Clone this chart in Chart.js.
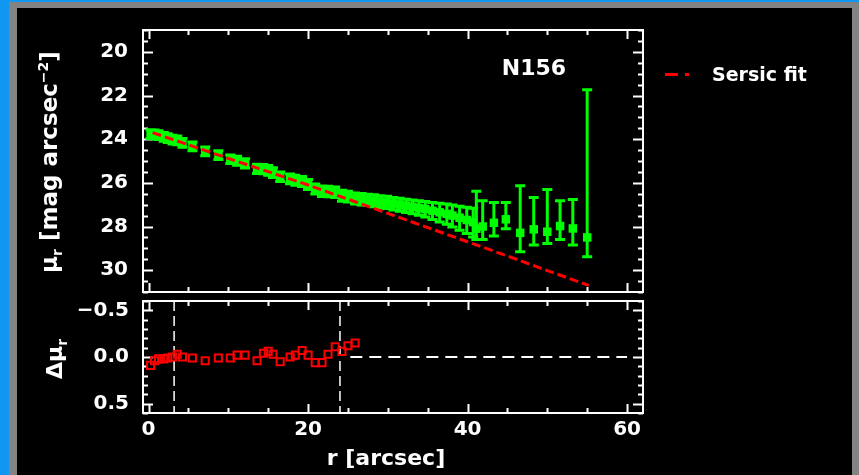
<!DOCTYPE html>
<html>
<head>
<meta charset="utf-8">
<script src="https://cdn.jsdelivr.net/npm/chart.js@4.4.1/dist/chart.umd.min.js"></script>
<style>
  body { margin: 0; background: #000; width: 859px; height: 475px; overflow: hidden; position: relative;
         font-family: 'DejaVu Sans', sans-serif; font-weight: bold; color: #fff; }
  canvas { position: absolute; left: 0; top: 0; }
  .abs { position: absolute; white-space: nowrap; }
  .rot { transform: translate(-50%, -50%) rotate(-90deg); }
  .ctr { transform: translate(-50%, -50%); }
</style>
</head>
<body>
<!-- window frame -->
<div class="abs" style="left:0;top:0;width:859px;height:2px;background:#1197f2"></div>
<div class="abs" style="left:0;top:0;width:9px;height:475px;background:#1197f2"></div>
<div class="abs" style="left:9px;top:2px;width:850px;height:6px;background:#838383"></div>
<div class="abs" style="left:9px;top:2px;width:8px;height:473px;background:#838383"></div>
<div class="abs" style="left:852px;top:2px;width:7px;height:473px;background:#838383"></div>

<canvas id="profile" width="859" height="475"></canvas>
<canvas id="resid" width="859" height="475"></canvas>

<div class="abs rot" style="left:50px;top:162px;font-size:23px">&mu;<sub style="font-size:14px">r</sub> [mag arcsec<sup style="font-size:14px">&minus;2</sup>]</div>
<div class="abs rot" style="left:56px;top:359px;font-size:22px">&Delta;&mu;<sub style="font-size:14px">r</sub></div>
<div class="abs ctr" style="left:386px;top:457px;font-size:22px">r [arcsec]</div>
<div class="abs ctr" style="left:534px;top:67px;font-size:22px">N156</div>
<div class="abs" style="left:665px;top:73px;width:13px;height:3px;background:#ff0000"></div>
<div class="abs" style="left:685px;top:73px;width:4px;height:3px;background:#ff0000"></div>
<div class="abs" style="left:712px;top:74px;font-size:19px;transform:translateY(-50%)">Sersic fit</div>

<script>
// surface brightness profile (arcsec, mag/arcsec^2)
const rProf = [0.25, 0.75, 1.25, 1.9, 2.4, 3.0, 3.6, 4.25, 5.5, 7.1, 8.75, 10.25, 11.1, 12.1, 13.6, 14.4, 15.0, 15.6, 16.5, 17.75,
               18.4, 19.25, 20.0, 20.9, 21.75, 22.5, 23.4, 24.25, 25.0, 25.9, 26.7, 27.5, 28.3, 29.1, 29.9, 30.7, 31.5, 32.3, 33.1, 33.9,
               34.7, 35.6, 36.5, 37.4, 38.1, 39.0, 39.9, 40.7, 41.1, 41.9, 43.3, 44.8, 46.6, 48.3, 50.0, 51.6, 53.2, 55.0];
const muProf = [23.77, 23.78, 23.82, 23.90, 23.95, 24.02, 24.06, 24.17, 24.33, 24.56, 24.73, 24.92, 24.99, 25.11, 25.36, 25.37, 25.43, 25.53, 25.72, 25.82,
                25.88, 25.94, 26.08, 26.28, 26.39, 26.40, 26.43, 26.59, 26.63, 26.72, 26.75, 26.78, 26.82, 26.86, 26.90, 26.95, 27.00, 27.05, 27.10, 27.15,
                27.20, 27.28, 27.35, 27.42, 27.50, 27.60, 27.70, 27.80, 28.10, 28.00, 27.83, 27.67, 28.29, 28.13, 28.24, 27.98, 28.09, 28.50];
// error bar extent towards brighter (up) and fainter (down) magnitudes
const muErrUp = [0.20, 0.20, 0.20, 0.20, 0.20, 0.20, 0.20, 0.20, 0.20, 0.20, 0.20, 0.20, 0.21, 0.21, 0.21, 0.21, 0.22, 0.22, 0.22, 0.22,
                 0.23, 0.23, 0.23, 0.23, 0.24, 0.24, 0.24, 0.25, 0.25, 0.25, 0.26, 0.26, 0.27, 0.27, 0.28, 0.28, 0.29, 0.30, 0.31, 0.33,
                 0.35, 0.38, 0.41, 0.45, 0.49, 0.53, 0.58, 0.64, 1.72, 1.18, 0.93, 0.77, 2.16, 1.46, 1.94, 1.16, 1.33, 6.76];
const muErrDn = [0.20, 0.20, 0.20, 0.20, 0.20, 0.20, 0.20, 0.20, 0.20, 0.20, 0.20, 0.20, 0.21, 0.21, 0.21, 0.21, 0.22, 0.22, 0.22, 0.22,
                 0.23, 0.23, 0.23, 0.23, 0.24, 0.24, 0.24, 0.25, 0.25, 0.25, 0.26, 0.26, 0.27, 0.27, 0.28, 0.29, 0.30, 0.31, 0.32, 0.34,
                 0.37, 0.40, 0.44, 0.48, 0.52, 0.57, 0.62, 0.68, 0.50, 0.60, 0.61, 0.43, 0.87, 0.72, 0.54, 0.62, 0.76, 0.89];

// Sersic fit curve
const rFit  = [0.5, 5, 10, 15, 20, 25, 30, 35, 40, 45, 50, 55.2];
const muFit = [23.70, 24.26, 24.88, 25.49, 26.10, 26.75, 27.40, 28.05, 28.70, 29.35, 30.02, 30.70];

// residuals (data - fit)
const rRes = [0.25, 0.75, 1.25, 1.9, 2.4, 3.0, 3.6, 4.25, 5.5, 7.1, 8.75, 10.25, 11.1, 12.1, 13.6, 14.4, 15.0, 15.6, 16.5, 17.75,
              18.4, 19.25, 20.0, 20.9, 21.75, 22.5, 23.4, 24.25, 25.0, 25.9];
const dMu  = [0.09, 0.04, 0.02, 0.02, 0.01, 0.00, -0.03, 0.00, 0.01, 0.04, 0.01, 0.01, -0.02, -0.02, 0.04, -0.04, -0.06, -0.03, 0.05, 0.00,
              -0.02, -0.07, -0.02, 0.06, 0.06, -0.03, -0.11, -0.06, -0.12, -0.15];
const fitRange = [3.2, 24.0];
const zeroFrom = 25.3;

// tick labels
const xTicks = [0, 20, 40, 60];
const muTicks = [20, 22, 24, 26, 28, 30];
const dMuTicks = [-0.5, 0.0, 0.5];

const tickFont = { family: 'DejaVu Sans', size: 20, weight: 'bold' };

// IDL style box: frame plus inward ticks on all four sides
const idlBox = {
  id: 'idlBox',
  beforeDatasetsDraw(chart, args, opts) {
    const { ctx, chartArea: a, scales: { x, y } } = chart;
    ctx.save();
    ctx.strokeStyle = '#fff';
    ctx.lineWidth = 2;
    ctx.strokeRect(a.left, a.top, a.right - a.left, a.bottom - a.top);
    ctx.beginPath();
    for (let k = Math.ceil(x.min / opts.xMinor); k * opts.xMinor <= x.max; k++) {
      const v = k * opts.xMinor;
      const len = opts.xMajor.some(m => Math.abs(m - v) < 1e-6) ? 9 : 5;
      const px = Math.round(x.getPixelForValue(v)) + 0.5;
      ctx.moveTo(px, a.bottom); ctx.lineTo(px, a.bottom - len);
      ctx.moveTo(px, a.top); ctx.lineTo(px, a.top + len);
    }
    for (let k = Math.ceil(y.min / opts.yMinor - 1e-6); k * opts.yMinor <= y.max + 1e-6; k++) {
      const v = k * opts.yMinor;
      const len = opts.yMajor.some(m => Math.abs(m - v) < 1e-6) ? 10 : 5;
      const py = Math.round(y.getPixelForValue(v)) + 0.5;
      ctx.moveTo(a.left, py); ctx.lineTo(a.left + len, py);
      ctx.moveTo(a.right, py); ctx.lineTo(a.right - len, py);
    }
    ctx.stroke();
    ctx.restore();
  }
};

// vertical error bars with caps, drawn under the markers
const errorBars = {
  id: 'errorBars',
  beforeDatasetsDraw(chart) {
    const { ctx, scales: { x, y } } = chart;
    chart.data.datasets.forEach(ds => {
      if (!ds.errUp) return;
      ctx.save();
      ctx.strokeStyle = ds.borderColor;
      ctx.lineWidth = 3;
      ctx.beginPath();
      ds.data.forEach((p, j) => {
        const px = x.getPixelForValue(p.x);
        const yt = y.getPixelForValue(p.y - ds.errUp[j]);
        const yb = y.getPixelForValue(p.y + ds.errDn[j]);
        ctx.moveTo(px, yt); ctx.lineTo(px, yb);
        ctx.moveTo(px - 5, yt); ctx.lineTo(px + 5, yt);
        ctx.moveTo(px - 5, yb); ctx.lineTo(px + 5, yb);
      });
      ctx.stroke();
      ctx.restore();
    });
  }
};

const profileChart = new Chart(document.getElementById('profile'), {
  type: 'scatter',
  data: {
    datasets: [{
      label: 'Sersic fit',
      type: 'line',
      data: rFit.map((r, i) => ({ x: r, y: muFit[i] })),
      borderColor: '#ff0000',
      borderWidth: 3,
      borderDash: [9, 4],
      pointRadius: 0,
      fill: false
    }, {
      label: 'N156',
      data: rProf.map((r, i) => ({ x: r, y: muProf[i] })),
      errUp: muErrUp,
      errDn: muErrDn,
      pointStyle: 'rect',
      pointRadius: 6,
      borderWidth: 0,
      backgroundColor: '#00ff00',
      borderColor: '#00ff00'
    }]
  },
  options: {
    responsive: false,
    animation: false,
    devicePixelRatio: 1,
    layout: { padding: { left: 73, right: 216, top: 30, bottom: 183 } },
    plugins: {
      legend: { display: false },
      tooltip: { enabled: false },
      idlBox: { xMajor: xTicks, xMinor: 5, yMajor: muTicks, yMinor: 0.5 }
    },
    scales: {
      x: { type: 'linear', min: -0.7, max: 62, display: false },
      y: {
        type: 'linear', min: 19, max: 31, reverse: true,
        afterFit: s => { s.width = 70; },
        afterBuildTicks: s => { s.ticks = muTicks.map(v => ({ value: v })); },
        grid: { display: false },
        border: { display: false },
        ticks: { color: '#fff', padding: 7, font: tickFont, callback: v => String(v) }
      }
    }
  },
  plugins: [idlBox, errorBars]
});

const residChart = new Chart(document.getElementById('resid'), {
  type: 'scatter',
  data: {
    datasets: [{
      label: 'residual',
      data: rRes.map((r, i) => ({ x: r, y: dMu[i] })),
      pointStyle: 'rect',
      pointRadius: 5,
      borderWidth: 2,
      borderColor: '#ff0000',
      backgroundColor: 'rgba(0,0,0,0)'
    }, {
      label: 'zero',
      type: 'line',
      data: [{ x: zeroFrom, y: 0 }, { x: 60, y: 0 }],
      borderColor: '#fff',
      borderWidth: 2,
      borderDash: [12, 7],
      pointRadius: 0
    }, {
      label: 'fit start',
      type: 'line',
      data: [{ x: fitRange[0], y: -0.6 }, { x: fitRange[0], y: 0.6 }],
      borderColor: '#fff',
      borderWidth: 1.5,
      borderDash: [10, 5],
      pointRadius: 0
    }, {
      label: 'fit end',
      type: 'line',
      data: [{ x: fitRange[1], y: -0.6 }, { x: fitRange[1], y: 0.6 }],
      borderColor: '#fff',
      borderWidth: 1.5,
      borderDash: [10, 5],
      pointRadius: 0
    }]
  },
  options: {
    responsive: false,
    animation: false,
    devicePixelRatio: 1,
    layout: { padding: { left: 73, right: 216, top: 301, bottom: 22 } },
    plugins: {
      legend: { display: false },
      tooltip: { enabled: false },
      idlBox: { xMajor: xTicks, xMinor: 5, yMajor: dMuTicks, yMinor: 0.1 }
    },
    scales: {
      x: {
        type: 'linear', min: -0.7, max: 62,
        afterFit: s => { s.height = 40; },
        afterBuildTicks: s => { s.ticks = xTicks.map(v => ({ value: v })); },
        grid: { display: false },
        border: { display: false },
        ticks: { color: '#fff', padding: -3, font: tickFont, maxRotation: 0, callback: v => String(v) }
      },
      y: {
        type: 'linear', min: -0.6, max: 0.6, reverse: true,
        afterFit: s => { s.width = 70; },
        afterBuildTicks: s => { s.ticks = dMuTicks.map(v => ({ value: v })); },
        grid: { display: false },
        border: { display: false },
        ticks: { color: '#fff', padding: 6, font: tickFont, callback: v => v.toFixed(1).replace('-', '\u2212') }
      }
    }
  },
  plugins: [idlBox]
});
</script>
</body>
</html>
